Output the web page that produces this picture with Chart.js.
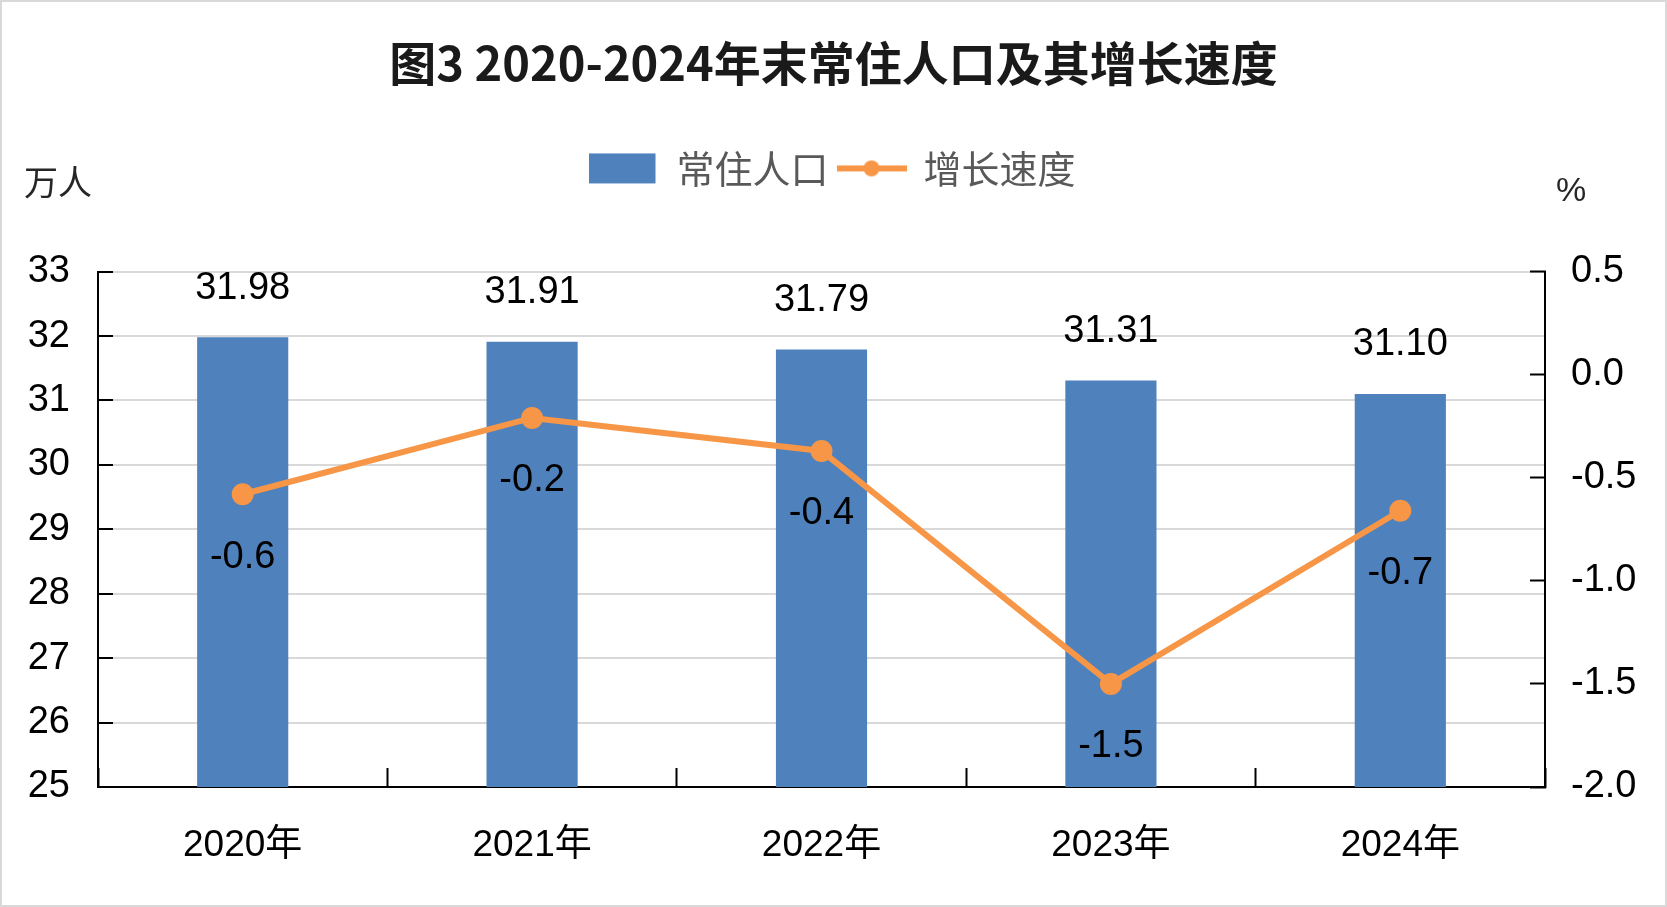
<!DOCTYPE html>
<html>
<head>
<meta charset="UTF-8" />
<script src="https://cdn.jsdelivr.net/npm/chart.js@4"></script>
<style>
  html, body { margin: 0; background: #fff; }
  canvas { display: block; }
</style>
</head>
<body>
<canvas id="chart" width="1667" height="907"></canvas>
<script>
// Данные графика
const years = ['2020年', '2021年', '2022年', '2023年', '2024年'];
const population = [31.98, 31.91, 31.79, 31.31, 31.10];
const populationLabels = ['31.98', '31.91', '31.79', '31.31', '31.10'];
const growth = [-0.58, -0.21, -0.37, -1.50, -0.66];
const growthLabels = ['-0.6', '-0.2', '-0.4', '-1.5', '-0.7'];

const BLUE = '#4F81BD';
const ORANGE = '#F79646';
const NUM_FONT = '"Liberation Sans", "Noto Sans CJK SC", sans-serif';
const CJK_FONT = '"Noto Sans CJK SC", sans-serif';

// Значки легенды
function legendIcon(kind) {
  const c = document.createElement('canvas');
  c.width = 70;
  c.height = 32;
  const g = c.getContext('2d');
  if (kind === 'bar') {
    g.fillStyle = BLUE;
    g.fillRect(0, 1, 66, 30);
  } else {
    g.strokeStyle = ORANGE;
    g.lineWidth = 6;
    g.beginPath();
    g.moveTo(0, 16);
    g.lineTo(70, 16);
    g.stroke();
    g.fillStyle = ORANGE;
    g.beginPath();
    g.arc(35, 16, 8, 0, Math.PI * 2);
    g.fill();
  }
  return c;
}
const icons = [legendIcon('bar'), legendIcon('line')];

// Фон и рамка
const frame = {
  id: 'frame',
  beforeDraw(chart) {
    const { ctx, width, height } = chart;
    ctx.save();
    ctx.fillStyle = '#fff';
    ctx.fillRect(0, 0, width, height);
    ctx.restore();
  },
  afterDraw(chart) {
    const { ctx, width, height } = chart;
    ctx.save();
    ctx.strokeStyle = '#d9d9d9';
    ctx.lineWidth = 2;
    ctx.strokeRect(1, 1, width - 2, height - 2);
    ctx.restore();
  },
};

// Подписи значений и единицы осей
const valueLabels = {
  id: 'valueLabels',
  afterDatasetsDraw(chart) {
    const { ctx, chartArea } = chart;
    ctx.save();
    ctx.fillStyle = '#000';
    ctx.textAlign = 'center';
    ctx.textBaseline = 'middle';
    ctx.font = '38px ' + NUM_FONT;
    chart.getDatasetMeta(0).data.forEach((bar, i) => {
      ctx.fillText(populationLabels[i], bar.x, bar.y - 49);
    });
    chart.getDatasetMeta(1).data.forEach((pt, i) => {
      ctx.fillText(growthLabels[i], pt.x, pt.y + 63);
    });
    ctx.font = '34px ' + CJK_FONT;
    ctx.fillStyle = '#262626';
    ctx.fillText('万人', chartArea.left - 40, chartArea.top - 90);
    ctx.font = '34px ' + NUM_FONT;
    ctx.fillText('%', chartArea.right + 26, chartArea.top - 80);
    ctx.restore();
  },
};

new Chart(document.getElementById('chart'), {
  data: {
    labels: years,
    datasets: [
      {
        type: 'bar',
        label: '常住人口',
        data: population,
        backgroundColor: BLUE,
        yAxisID: 'y',
        order: 1,
        categoryPercentage: 1,
        barPercentage: 0.315,
      },
      {
        type: 'line',
        label: '增长速度',
        data: growth,
        borderColor: ORANGE,
        backgroundColor: ORANGE,
        borderWidth: 6,
        pointRadius: 8,
        pointBackgroundColor: ORANGE,
        pointBorderColor: ORANGE,
        tension: 0,
        yAxisID: 'y1',
        order: 0,
      },
    ],
  },
  options: {
    responsive: false,
    devicePixelRatio: 1,
    animation: false,
    layout: { padding: 0 },
    plugins: {
      tooltip: { enabled: false },
      title: {
        display: true,
        text: '图3 2020-2024年末常住人口及其增长速度',
        color: '#1a1a1a',
        font: { family: CJK_FONT, size: 47, weight: 'bold' },
        padding: { top: 35, bottom: 48 },
      },
      legend: {
        display: true,
        labels: {
          usePointStyle: true,
          pointStyleWidth: 66,
          padding: 10,
          color: '#595959',
          font: { family: CJK_FONT, size: 38 },
          generateLabels: chart => chart.data.datasets.map((ds, i) => ({
            text: ds.label,
            pointStyle: icons[i],
            fillStyle: 'transparent',
            strokeStyle: 'transparent',
            lineWidth: 0,
            hidden: false,
            datasetIndex: i,
            fontColor: '#595959',
          })),
        },
      },
      // пустой блок-отступ между легендой и графиком
      subtitle: {
        display: true,
        text: '',
        weight: 500,
        font: { size: 1 },
        padding: { top: 73, bottom: 0 },
      },
    },
    scales: {
      x: {
        grid: {
          offset: true,
          drawOnChartArea: false,
          tickLength: -19,
          tickColor: '#000',
          tickWidth: 2,
        },
        border: { color: '#000', width: 2 },
        ticks: {
          color: '#000',
          font: { family: NUM_FONT, size: 37 },
          padding: 56,
        },
        afterFit: s => { s.height = 120; },
      },
      y: {
        position: 'left',
        min: 25,
        max: 33,
        ticks: {
          stepSize: 1,
          color: '#000',
          font: { family: NUM_FONT, size: 38 },
          padding: 43,
        },
        grid: {
          color: '#d9d9d9',
          lineWidth: 2,
          tickLength: -15,
          tickColor: '#000',
          tickWidth: 2,
        },
        border: { color: '#000', width: 2 },
        afterFit: s => { s.width = 98; },
      },
      y1: {
        position: 'right',
        min: -2,
        max: 0.5,
        ticks: {
          stepSize: 0.5,
          color: '#000',
          font: { family: NUM_FONT, size: 38 },
          padding: 41,
          callback: v => v.toFixed(1),
        },
        grid: {
          drawOnChartArea: false,
          tickLength: -15,
          tickColor: '#000',
          tickWidth: 2,
        },
        border: { color: '#000', width: 2 },
        afterFit: s => { s.width = 122; },
      },
    },
  },
  plugins: [frame, valueLabels],
});
</script>
</body>
</html>
